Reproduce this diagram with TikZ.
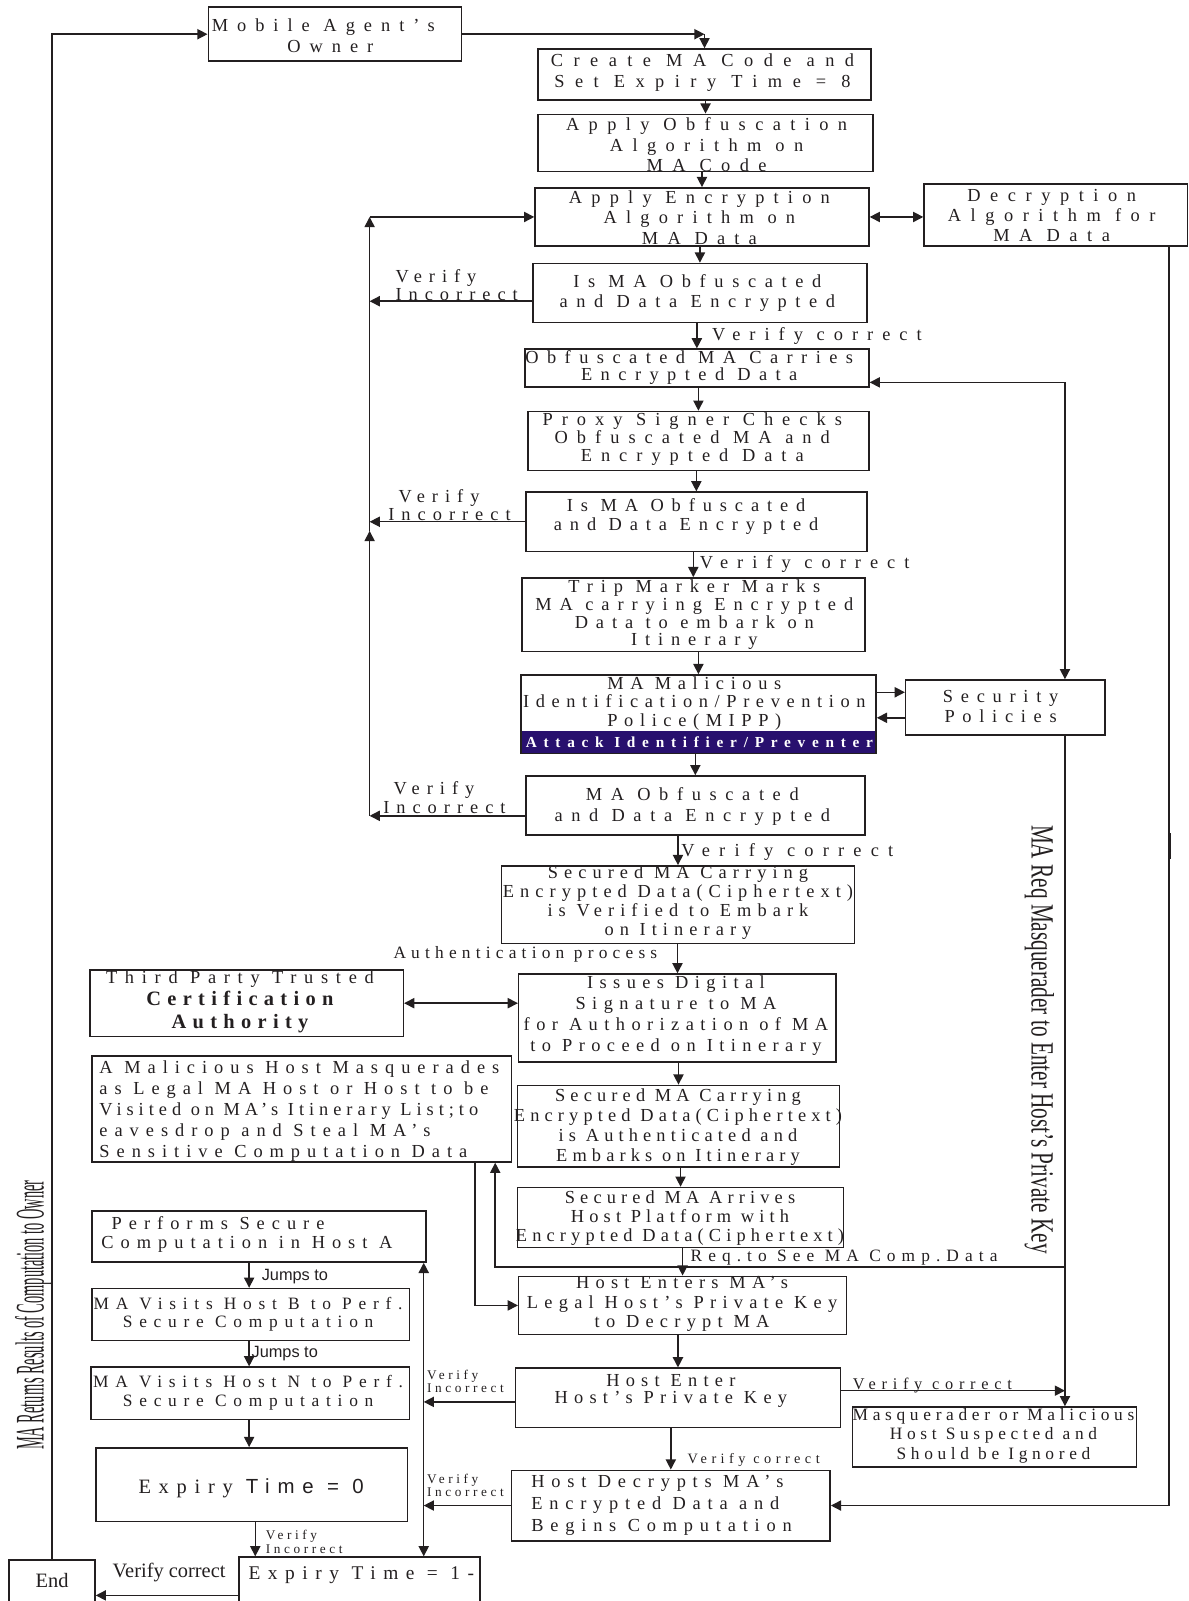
\documentclass[tikz,border=0pt]{standalone}
\usepackage{fontspec}
\usepackage{graphicx}
\setmainfont{Liberation Serif}
\newfontfamily\fA{Liberation Serif}
\newfontfamily\fS{Liberation Sans}
\usetikzlibrary{arrows.meta,fit}
\definecolor{ink}{RGB}{35,31,32}
\definecolor{band}{RGB}{40,16,110}

% spaced serif: size, leading, letter spacing
\newcommand\ff[3]{\fA\fontsize{#1}{#2}\selectfont\addfontfeature{LetterSpace=#3}}

\tikzset{
  box/.style={draw=ink, line width=0.75pt, inner sep=0pt},
  txt/.style={inner sep=0pt, align=center, text=ink, font=\ff{9}{10}{42}},
  lbl/.style={inner sep=0pt, align=left, text=ink, font=\ff{9}{9}{38}},
  mid/.style={inner sep=0pt, align=left, text=ink, font=\ff{8.5}{8.5}{30}},
  tiny/.style={inner sep=0pt, align=left, text=ink, font=\ff{6.5}{6.5}{27}},
  jmp/.style={inner sep=0pt, text=ink, font=\fS\fontsize{8}{8}\selectfont},
  arr/.style={draw=ink, line width=0.7pt, -{Triangle[length=5pt,width=5pt]}},
  darr/.style={draw=ink, line width=0.7pt, {Triangle[length=5pt,width=5pt]}-{Triangle[length=5pt,width=5pt]}},
}

% a framed step given by its corners
\newcommand\flowbox[5]{\node[box, fit={(#2,#3)(#4,#5)}] (#1) {};}
% straight arrow from the bottom of one step into the top of the next
\newcommand\down[2]{\draw[arr] (#2.north |- #1.south) -- (#2.north);}

\begin{document}
\begin{tikzpicture}[x=0.5pt,y=-0.5pt]
\useasboundingbox (0,0) rectangle (1164,1568);

% ---------- steps ----------
\flowbox{owner}{204}{7}{452}{60}
\node[txt, align=left, anchor=west, font=\ff{9}{10}{49}] at (207,35) {Mobile Agent’s\\\hspace{37pt}Owner};

\flowbox{create}{527}{48}{853}{98}
\node[txt, font=\ff{9}{10.5}{57}] at (688,71) {Create MA Code and\\Set Expiry Time = 8};

\flowbox{obf}{527}{112}{855}{168}
\node[txt, font=\ff{9}{10}{51}] at (692,142) {Apply Obfuscation\\Algorithm on\\MA Code};

\flowbox{enc}{524}{184}{851}{241}
\node[txt, font=\ff{9}{10}{50}] at (685,213) {Apply Encryption\\Algorithm on\\MA Data};

\flowbox{dec}{905}{180}{1163}{241}
\node[txt, font=\ff{9}{10}{52}] at (1030,211) {Decryption\\Algorithm for\\MA Data};

\flowbox{isobfa}{522}{258}{849}{316}
\node[txt, font=\ff{9}{10}{47}] at (683,287) {Is MA Obfuscated\\and Data Encrypted};

\flowbox{carries}{514}{342}{851}{379}
\node[txt, font=\ff{9}{8.5}{46}] at (675,360) {Obfuscated MA Carries\\Encrypted Data};

\flowbox{proxy}{517}{403}{851}{461}
\node[txt, font=\ff{9}{9}{49}] at (678,430) {Proxy Signer Checks\\Obfuscated MA and\\Encrypted Data};

\flowbox{isobfb}{515}{482}{849}{540}
\node[txt, font=\ff{9}{9}{43}] at (672,506) {Is MA Obfuscated\\and Data Encrypted};

\flowbox{trip}{511}{566}{847}{638}
\node[txt, font=\ff{9}{8.75}{43}] at (680,602) {Trip Marker Marks\\MA carrying Encrypted\\Data to embark on\\Itinerary};

\flowbox{mipp}{510}{661}{858}{738}
\fill[band] (510,716) rectangle (858,738);
\draw[ink, line width=0.75pt] (510,661) rectangle (858,738);
\node[txt, font=\ff{9}{9.25}{36}] at (680,689) {MA Malicious\\Identification/Prevention\\Police(MIPP)};
\node[inner sep=0pt, text=white, font=\fA\fontsize{7.5}{7.5}\selectfont\bfseries\addfontfeature{LetterSpace=44}] at (685,727) {Attack Identifier/Preventer};

\flowbox{secpol}{887}{666}{1082}{720}
\node[txt] at (980,692) {Security\\Policies};

\flowbox{maobf}{515}{760}{847}{818}
\node[txt, font=\ff{9}{10}{47}] at (678,790) {MA Obfuscated\\and Data Encrypted};

\flowbox{secver}{491}{848}{837}{924}
\node[txt, font=\ff{9}{9.3}{33}] at (664,884) {Secured MA Carrying\\Encrypted Data(Ciphertext)\\is Verified to Embark\\on Itinerary};

\flowbox{issues}{508}{954}{819}{1040}
\node[txt, font=\ff{9}{10.3}{35}] at (662,995) {Issues Digital\\Signature to MA\\for Authorization of MA\\to Proceed on Itinerary};

\flowbox{ca}{88}{950}{395}{1015}
\node[txt, font=\ff{9}{11}{42}] at (235,981) {Third Party Trusted\\{\fontsize{10}{11}\selectfont\bfseries\addfontfeature{LetterSpace=31}Certification}\\{\fontsize{10}{11}\selectfont\bfseries\addfontfeature{LetterSpace=31}Authority}};

\flowbox{malicious}{90}{1034}{501}{1138}
\node[txt, align=left, anchor=west, font=\ff{9}{10.3}{38}] at (97,1088) {A Malicious Host Masquerades\\as Legal MA Host or Host to be\\{\addfontfeature{LetterSpace=27}Visited on MA’s Itinerary List;to}\\eavesdrop and Steal MA’s\\Sensitive Computation Data};

\flowbox{secauth}{507}{1063}{822}{1143}
\node[txt, font=\ff{9}{9.7}{28}] at (664,1104) {Secured MA Carrying\\Encrypted Data(Ciphertext)\\is Authenticated and\\Embarks on Itinerary};

\flowbox{arrives}{507}{1163}{826}{1222}
\node[txt, font=\ff{9}{9.5}{28}] at (666,1193) {Secured MA Arrives\\Host Platform with\\Encrypted Data(Ciphertext)};

\flowbox{hostenters}{508}{1250}{829}{1307}
\node[txt, font=\ff{9}{9.7}{34}] at (668,1277) {Host Enters MA’s\\Legal Host’s Private Key\\to Decrypt MA};

\flowbox{hostenter}{505}{1340}{823}{1398}
\node[txt, font=\ff{9}{8.5}{34}] at (657,1362) {Host Enter\\Host’s Private Key};

\flowbox{masq}{835}{1378}{1113}{1437}
\node[txt, font=\ff{8.5}{9.5}{27}] at (973,1406) {Masquerader or Malicious\\Host Suspected and\\Should be Ignored};

\flowbox{hostdec}{501}{1440}{813}{1509}
\node[txt, align=left, anchor=west, font=\ff{9}{10.7}{37}] at (520,1474) {Host Decrypts MA’s\\Encrypted Data and\\Begins Computation};

\flowbox{performs}{90}{1186}{417}{1236}
\node[txt, align=left, anchor=west, font=\ff{9}{9.5}{38}] at (99,1209) {\hspace{5pt}Performs Secure\\Computation in Host A};

\flowbox{visitb}{90}{1262}{401}{1313}
\node[txt, font=\ff{8.5}{9}{39}] at (243,1287) {MA Visits Host B to Perf.\\Secure Computation};

\flowbox{visitn}{89}{1339}{401}{1390}
\node[txt, font=\ff{8.5}{9}{39}] at (243,1364) {MA Visits Host N to Perf.\\Secure Computation};

\flowbox{expzero}{94}{1418}{399}{1490}
\node[inner sep=0pt, text=ink] at (246,1458) {\ff{10}{10}{38}Expiry {\fS\addfontfeature{LetterSpace=38}Time = 0}};

\flowbox{expone}{234}{1525}{470}{1600}
\node[inner sep=0pt, text=ink, anchor=west, font=\ff{9.5}{9.5}{39}] at (243,1543) {Expiry Time = 1-};

\flowbox{endbox}{9}{1528}{93}{1600}
\node[inner sep=0pt, text=ink, font=\fontsize{10}{10}\selectfont] at (51,1548) {End};

% ---------- vertical notes ----------
\node[rotate=-90, inner sep=0pt, text=ink] at (1018,1018) {\resizebox{210pt}{11pt}{\fontsize{16}{16}\selectfont MA Req Masquerader to Enter Host’s Private Key}};
\node[rotate=90, inner sep=0pt, text=ink] at (33,1288) {\resizebox{132pt}{14pt}{\fontsize{16}{16}\selectfont MA Returns Results of Computation to Owner}};

% ---------- main chain ----------
\coordinate (ownercorner) at (owner.east -| create.north);
\draw[arr] (owner.east) -- (ownercorner);
\draw[arr] (ownercorner) -- (create.north);
\draw[arr] (endbox.north) |- (owner.west);
\down{create}{obf}
\down{obf}{enc}
\draw[darr] (enc.east) -- (enc.east -| dec.west);
\down{enc}{isobfa}
\down{isobfa}{carries}
\down{carries}{proxy}
\down{proxy}{isobfb}
\down{isobfb}{trip}
\down{trip}{mipp}
\down{mipp}{maobf}
\down{maobf}{secver}
\down{secver}{issues}
\down{issues}{secauth}
\down{secauth}{arrives}
\down{arrives}{hostenters}
\down{hostenters}{hostenter}
\down{hostenter}{hostdec}

% ---------- rejection loop back to encryption ----------
\coordinate (loopx) at (362,0);
\coordinate (isobfaw) at ([yshift=-4pt]isobfa.west);
\coordinate (maobfw) at ([yshift=-5pt]maobf.west);
\draw[arr] (isobfaw) -- (isobfaw -| loopx);
\draw[arr] (isobfb.west) -- (isobfb.west -| loopx);
\draw[arr] (maobfw) -- (maobfw -| loopx);
\coordinate (loopmid) at (362,520);
\coordinate (looptop) at (loopx |- enc.west);
\draw[arr] (maobfw -| loopx) -- (loopmid);
\draw[arr] (loopmid) -- (looptop);
\draw[arr] (looptop) -- (enc.west);

% ---------- security policies ----------
\coordinate (secx) at (1043,0);
\coordinate (carriesE) at ([yshift=-7pt]carries.east);
\draw[darr] (carriesE) -| (secx |- secpol.north);
\coordinate (sa) at ([yshift=7.5pt]secpol.west);
\coordinate (sb) at ([yshift=-5pt]secpol.west);
\draw[arr] (sa -| mipp.east) -- (sa);
\draw[arr] (sb) -- (sb -| mipp.east);
\draw[arr] (secx |- secpol.south) -- (secx |- masq.north);

% ---------- decryption key path ----------
\coordinate (decx) at (1145,0);
\draw[arr] (dec.south -| decx) |- (hostdec.east);
\draw[ink, line width=1.4pt] (1145,816) -- (1145,841);

% ---------- masquerading host ----------
\coordinate (reqright) at (1043,1241);
\coordinate (reqx) at (485,0);
\draw[arr] (reqright) -| (reqx |- malicious.south);
\coordinate (malx) at (465,0);
\draw[arr] (malx |- malicious.south) |- (hostenters.west);
\draw[darr] (ca.east) -- (ca.east -| issues.west);

\coordinate (heR) at ([yshift=3.5pt]hostenter.east);
\draw[arr] (heR) -- (heR -| secx);

% ---------- computation on hosts ----------
\coordinate (upx) at (415,0);
\coordinate (heL) at ([yshift=-2pt]hostenter.west);
\draw[arr] (heL) -- (heL -| upx);
\draw[arr] (hostdec.west) -- (hostdec.west -| upx);
\draw[darr] (upx |- performs.south) -- (upx |- expone.north);

\coordinate (colx) at (244,0);
\draw[arr] (colx |- performs.south) -- (colx |- visitb.north);
\draw[arr] (colx |- visitb.south) -- (colx |- visitn.north);
\draw[arr] (colx |- visitn.south) -- (colx |- expzero.north);
\coordinate (colxb) at (250,0);
\draw[arr] (colxb |- expzero.south) -- (colxb |- expone.north);
\draw[arr] (expone.west) -- (expone.west -| endbox.east);

% ---------- labels ----------
\node[lbl, anchor=west] at (387,279) {Verify\\Incorrect};
\node[lbl, anchor=west] at (380,495) {\hspace{5pt}Verify\\Incorrect};
\node[lbl, anchor=west] at (375,781) {\hspace{5pt}Verify\\Incorrect};
\node[lbl, anchor=west, font=\ff{9}{9}{49}] at (697,329) {Verify correct};
\node[lbl, anchor=west, font=\ff{9}{9}{49}] at (685,552) {Verify correct};
\node[lbl, anchor=west, font=\ff{9}{9}{50}] at (667,834) {Verify correct};
\node[mid, anchor=west] at (385,935) {Authentication process};
\node[mid, anchor=west, font=\ff{8.5}{8.5}{35}] at (676,1232) {Req.to See MA Comp.Data};
\node[mid, anchor=west, font=\ff{8}{8}{35}] at (835,1357) {Verify correct};
\node[tiny, anchor=west] at (418,1353) {Verify\\Incorrect};
\node[tiny, anchor=west] at (418,1455) {Verify\\Incorrect};
\node[tiny, anchor=west, font=\ff{7}{7}{31}] at (673,1430) {Verify correct};
\node[tiny, anchor=west] at (260,1510) {Verify\\Incorrect};
\node[jmp, anchor=west] at (256,1250) {Jumps to};
\node[jmp, anchor=west] at (246,1326) {Jumps to};
\node[inner sep=0pt, text=ink, anchor=west, font=\fontsize{10}{10}\selectfont] at (110,1540) {Verify correct};
\end{tikzpicture}
\end{document}
